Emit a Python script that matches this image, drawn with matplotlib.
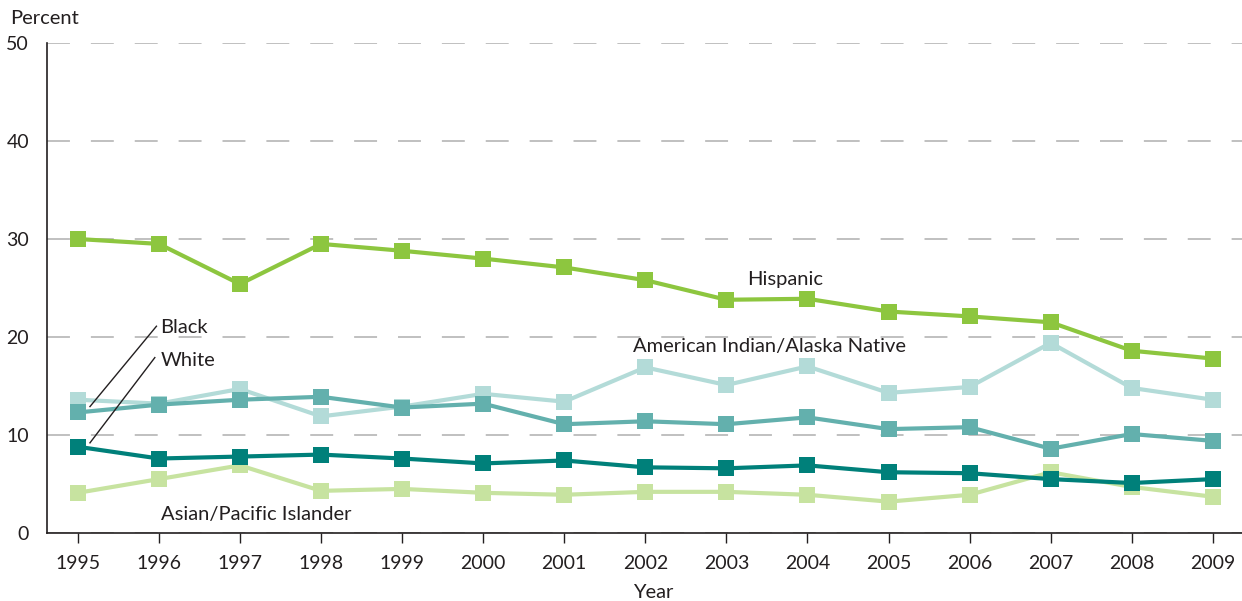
import matplotlib
matplotlib.use("Agg")
import matplotlib.pyplot as plt

years = list(range(1995, 2010))
hispanic = [30.0, 29.5, 25.4, 29.5, 28.8, 28.0, 27.1, 25.8, 23.8, 23.9, 22.6, 22.1, 21.5, 18.6, 17.8]
am_indian = [13.6, 13.2, 14.7, 11.9, 12.9, 14.2, 13.4, 16.9, 15.1, 17.0, 14.3, 14.9, 19.4, 14.8, 13.6]
black = [12.3, 13.1, 13.6, 13.9, 12.8, 13.2, 11.1, 11.4, 11.1, 11.8, 10.6, 10.8, 8.6, 10.1, 9.4]
white = [8.8, 7.6, 7.8, 8.0, 7.6, 7.1, 7.4, 6.7, 6.6, 6.9, 6.2, 6.1, 5.5, 5.1, 5.5]
asian = [4.1, 5.5, 6.9, 4.3, 4.5, 4.1, 3.9, 4.2, 4.2, 3.9, 3.2, 3.9, 6.2, 4.7, 3.7]
yticks = [0, 10, 20, 30, 40, 50]

plt.rcParams['font.family'] = ['Lato', 'DejaVu Sans']
txt = '#231f20'
fs = 14.5

fig = plt.figure(figsize=(12.42, 6.01), dpi=100)
ax = fig.add_axes([47/1242, 68/601, 1195/1242, 490/601])

series = [
    (asian, '#c7e3a0'),
    (am_indian, '#b3dbd8'),
    (black, '#63b0ad'),
    (white, '#00807a'),
    (hispanic, '#8dc63f'),
]
for vals, col in series:
    ax.plot(years, vals, color=col, lw=3, marker='s', markersize=11,
            markeredgewidth=0, zorder=3, solid_joinstyle='miter')

ax.set_xlim(1994.62, 2009.36)
ax.set_ylim(0, 50)
ax.set_yticks(yticks)
ax.set_xticks(years)
ax.tick_params(axis='y', length=0, pad=13, labelsize=14, labelcolor=txt)
ax.tick_params(axis='x', length=7, width=1, direction='out', pad=9,
               labelsize=14, labelcolor=txt, color=txt)
for s in ['top', 'right']:
    ax.spines[s].set_visible(False)
for s in ['left', 'bottom']:
    ax.spines[s].set_color(txt)
    ax.spines[s].set_linewidth(1.2)
ax.yaxis.grid(True, color='#bbbbbb', lw=1.3, linestyle=(0, (12.7, 11.6)))
ax.set_axisbelow(True)

fig.text(653/1242, 1 - 592/601, 'Year', fontsize=fs, color=txt, va='center', ha='center')
fig.text(10/1242, 1 - 18/601, 'Percent', fontsize=fs, color=txt, va='center', ha='left')

ax.text(2003.72, 25.9, 'Hispanic', fontsize=fs, color=txt, va='center', ha='center')
ax.text(2001.85, 19.0, 'American Indian/Alaska Native', fontsize=fs, color=txt, va='center', ha='left')
ax.text(1996.02, 21.0, 'Black', fontsize=fs, color=txt, va='center', ha='left')
ax.text(1996.02, 17.65, 'White', fontsize=fs, color=txt, va='center', ha='left')
ax.text(1996.02, 1.84, 'Asian/Pacific Islander', fontsize=fs, color=txt, va='center', ha='left')
ax.plot([1995.15, 1995.97], [12.9, 21.1], color=txt, lw=1, zorder=4)
ax.plot([1995.15, 1995.95], [9.2, 17.9], color=txt, lw=1, zorder=4)

fig.savefig('out.png', dpi=100)
